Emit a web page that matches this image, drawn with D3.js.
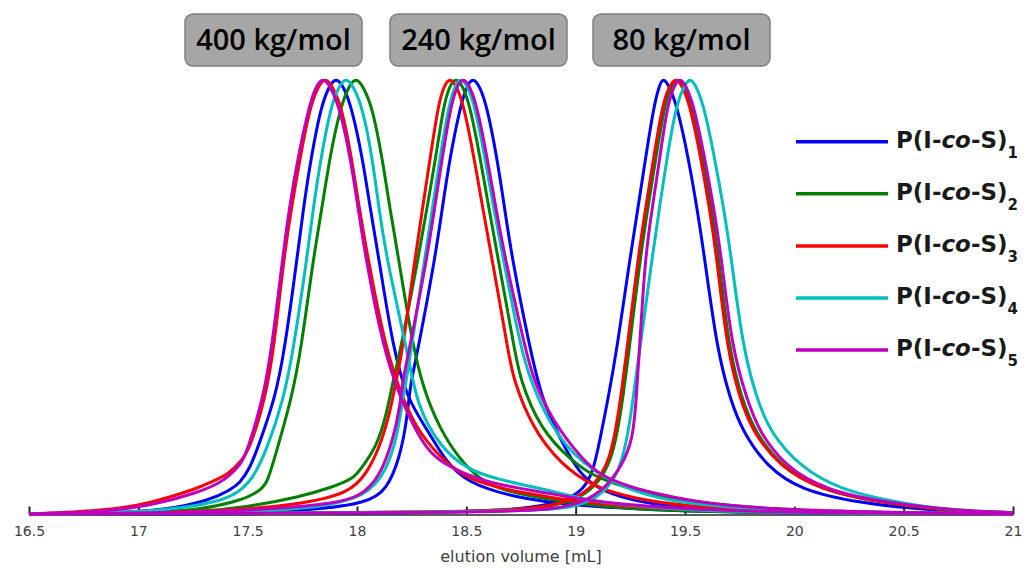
<!DOCTYPE html>
<html>
<head>
<meta charset="utf-8">
<script src="https://cdn.jsdelivr.net/npm/d3@7"></script>
<style>
  body { margin: 0; background: #fff; }
  svg { display: block; }
</style>
</head>
<body>
<svg id="chart"></svg>
<script>
// elution volume [mL] vs normalised signal [%]

// samples P(I-co-S)1..5
let sampleNums = ["1", "2", "3", "4", "5"];
let sampleColors = ["#0000ff", "#008000", "#ff0000", "#00bfbf", "#bf00bf"];
let massLabels = ["400 kg/mol", "240 kg/mol", "80 kg/mol"];
let xTicks = [16.5, 17, 17.5, 18, 18.5, 19, 19.5, 20, 20.5, 21];

// ---- 400 kg/mol ----
let s1_400 = [[16.5,0],[16.9,0.3],[17.13,0.9],[17.33,3.2],[17.42,5.5],[17.465,7.1],[17.51,10.5],[17.543,14.7],[17.625,26.3],[17.67,37.8],[17.726,58.5],[17.755,70],[17.79,81.6],[17.835,93.1],[17.87,97.7],[17.904,100],[17.94,97.7],[17.975,93.1],[18.025,81.6],[18.06,70],[18.10,58.5],[18.165,37.8],[18.23,26.3],[18.32,19.4],[18.40,12.5],[18.50,7.1],[18.73,3.7],[18.96,2.1],[19.4,0.7],[20,0.2],[21,0]];
let s2_400 = [[16.5,0],[17.0,0.2],[17.28,0.9],[17.48,3.2],[17.56,5.5],[17.59,7.1],[17.634,14.7],[17.70,26.3],[17.745,37.8],[17.80,58.5],[17.84,70],[17.875,81.6],[17.925,93.1],[17.96,97.7],[17.995,100],[18.03,97.7],[18.07,93.1],[18.115,81.6],[18.15,70],[18.19,58.5],[18.25,40],[18.3,29],[18.379,19.4],[18.471,12.4],[18.56,8],[18.654,5.5],[18.883,3.2],[19.2,1.2],[19.7,0.3],[21,0]];
let s3_400 = [[16.5,0],[16.83,0.7],[17.05,2.3],[17.28,6.0],[17.33,7.3],[17.41,9.0],[17.47,12],[17.51,15],[17.58,26.3],[17.62,37.8],[17.665,58.5],[17.70,70],[17.74,81.6],[17.785,93.1],[17.82,97.7],[17.855,100],[17.89,97.7],[17.93,93.1],[17.975,81.6],[18.01,70],[18.05,58.5],[18.13,37.8],[18.21,26.3],[18.28,18.7],[18.42,10.8],[18.55,7.1],[18.76,4.8],[19.0,2.8],[19.3,1.4],[19.8,0.4],[21,0]];
let s4_400 = [[16.5,0],[16.8,0.2],[17.05,0.5],[17.36,2.5],[17.46,5],[17.52,7.8],[17.588,14.7],[17.665,26.3],[17.71,37.8],[17.771,58.5],[17.80,70],[17.835,81.6],[17.88,93.1],[17.915,97.7],[17.95,100],[17.985,97.7],[18.025,93.1],[18.07,81.6],[18.10,70],[18.135,58.5],[18.228,37.8],[18.274,24.7],[18.379,15.4],[18.503,10.1],[18.654,7.8],[18.805,6.2],[18.96,4.4],[19.11,2.5],[19.48,0.9],[20,0.2],[21,0]];
let s5_400 = [[16.5,0],[16.83,0.5],[17.05,1.8],[17.28,5.0],[17.37,7.1],[17.41,8.5],[17.47,11.3],[17.50,14.7],[17.57,26.3],[17.61,37.8],[17.66,58.5],[17.69,70],[17.73,81.6],[17.78,93.1],[17.81,97.7],[17.845,100],[17.88,97.7],[17.92,93.1],[17.97,81.6],[18.005,70],[18.04,58.5],[18.12,37.8],[18.20,26.3],[18.27,19],[18.32,15],[18.38,11.8],[18.58,7.1],[18.88,4.8],[19.11,2.5],[19.57,0.9],[20.03,0.3],[21,0]];

// ---- 240 kg/mol ----
let s1_240 = [[16.5,0],[17.5,0.3],[17.8,0.9],[18.046,2.5],[18.137,5.5],[18.197,13.1],[18.229,21.7],[18.242,29.3],[18.28,37.8],[18.357,58.5],[18.39,70],[18.425,81.6],[18.472,93.1],[18.50,97.7],[18.53,100],[18.563,97.7],[18.595,93.1],[18.64,81.6],[18.675,70],[18.709,58.5],[18.791,37.8],[18.846,26.3],[18.915,18.7],[19.0,10.5],[19.08,6.2],[19.25,3.0],[19.5,1.2],[20.0,0.3],[21,0]];
let s2_240 = [[16.5,0],[17.0,0.1],[17.28,0.5],[17.497,1.6],[17.739,3.9],[17.89,6.2],[17.98,8],[18.014,10.1],[18.091,15.4],[18.137,23.3],[18.16,29.3],[18.20,37.8],[18.28,58.5],[18.32,70],[18.36,81.6],[18.395,93.1],[18.42,97.7],[18.453,100],[18.486,97.7],[18.518,93.1],[18.563,81.6],[18.603,70],[18.645,58.5],[18.72,37.8],[18.745,30.9],[18.837,19.4],[18.988,11.8],[19.1,8.2],[19.262,5.5],[19.5,2.8],[19.9,1.0],[20.5,0.2],[21,0]];
let s3_240 = [[16.5,0],[17.3,0.3],[17.739,2.1],[17.968,4.8],[18.046,9.4],[18.105,15.4],[18.151,23.3],[18.174,29.3],[18.21,37.8],[18.265,58.5],[18.30,70],[18.335,81.6],[18.37,93.1],[18.395,97.7],[18.425,100],[18.458,97.7],[18.49,93.1],[18.535,81.6],[18.575,70],[18.617,58.5],[18.69,37.8],[18.713,30.9],[18.805,19.4],[18.93,11.5],[19.079,6.2],[19.26,3.6],[19.5,1.8],[19.9,0.7],[20.5,0.2],[21,0]];
let s4_240 = [[16.5,0],[17.4,0.2],[17.8,1.2],[18.046,3.9],[18.137,10.1],[18.183,17.7],[18.21,26.3],[18.24,35],[18.31,58.5],[18.345,70],[18.38,81.6],[18.418,93.1],[18.445,97.7],[18.475,100],[18.508,97.7],[18.54,93.1],[18.585,81.6],[18.625,70],[18.668,58.5],[18.75,37.8],[18.791,30.9],[18.88,20.5],[19.02,11.5],[19.25,5.0],[19.5,2.3],[19.9,0.8],[20.5,0.2],[21,0]];
let s5_240 = [[16.5,0],[17.3,0.3],[17.739,1.6],[17.9,2.6],[18.014,3.9],[18.105,8.5],[18.165,17.0],[18.197,24.7],[18.21,30.9],[18.24,37.8],[18.32,58.5],[18.355,70],[18.39,81.6],[18.428,93.1],[18.455,97.7],[18.485,100],[18.518,97.7],[18.55,93.1],[18.595,81.6],[18.635,70],[18.677,58.5],[18.77,37.8],[18.805,30.9],[18.896,21.0],[19.033,12.4],[19.111,8.8],[19.262,6.0],[19.34,5.0],[19.57,2.5],[19.9,1.0],[20.5,0.3],[21,0]];

// ---- 80 kg/mol ----
let s1_80 = [[16.5,0],[18.5,0.1],[18.805,1.4],[18.96,3.2],[19.033,5.5],[19.079,9.4],[19.111,17.0],[19.148,26.3],[19.189,37.8],[19.248,58.5],[19.285,70],[19.32,81.6],[19.357,93.1],[19.38,97.7],[19.40,100],[19.43,97.7],[19.465,93.1],[19.515,81.6],[19.555,70],[19.59,58.5],[19.646,37.8],[19.706,26.3],[19.765,18.7],[19.875,10.8],[20.026,5.5],[20.30,2.5],[20.6,0.9],[21,0.2]];
let s2_80 = [[16.5,0],[18.6,0.3],[18.87,1.5],[19.0,3.2],[19.09,6.2],[19.165,11.8],[19.21,24],[19.245,37.8],[19.295,58.5],[19.33,70],[19.367,81.6],[19.405,93.1],[19.433,97.7],[19.467,100],[19.498,97.7],[19.532,93.1],[19.58,81.6],[19.62,70],[19.655,58.5],[19.70,37.8],[19.76,26.3],[19.82,18.7],[19.94,10.8],[20.12,5.5],[20.4,2.5],[20.7,0.8],[21,0.2]];
let s3_80 = [[16.5,0],[18.6,0.3],[18.85,1.5],[18.988,3.2],[19.079,6.2],[19.157,11.8],[19.20,24],[19.235,37.8],[19.285,58.5],[19.32,70],[19.357,81.6],[19.395,93.1],[19.425,97.7],[19.459,100],[19.49,97.7],[19.525,93.1],[19.572,81.6],[19.612,70],[19.646,58.5],[19.692,37.8],[19.751,26.3],[19.811,18.7],[19.934,10.8],[20.117,5.5],[20.405,2.5],[20.7,0.8],[21,0.3]];
let s4_80 = [[16.5,0],[18.8,0.4],[19.0,1.6],[19.111,3.9],[19.203,9.4],[19.245,20],[19.262,26.3],[19.294,37.8],[19.349,58.5],[19.383,70],[19.418,81.6],[19.458,93.1],[19.493,97.7],[19.523,100],[19.553,97.7],[19.588,93.1],[19.635,81.6],[19.677,70],[19.712,58.5],[19.765,37.8],[19.829,26.3],[19.889,18.7],[20.026,10.8],[20.209,5.5],[20.483,2.5],[20.7,0.9],[21,0.3]];
let s5_80 = [[16.5,0],[18.7,0.3],[18.9,1.2],[19.033,2.5],[19.143,6.2],[19.21,11],[19.262,17],[19.277,26.3],[19.292,37.8],[19.317,58.5],[19.35,70],[19.385,81.6],[19.418,93.1],[19.447,97.7],[19.477,100],[19.508,97.7],[19.542,93.1],[19.59,81.6],[19.632,70],[19.667,58.5],[19.715,37.8],[19.783,26.3],[19.84,18.7],[19.96,10.8],[20.14,5.5],[20.43,2.5],[20.75,0.8],[21,0.3]];

// table of traces, drawn in sample order (magenta ends on top)
let traces = [
    {s: 0, pts: s1_400}, {s: 0, pts: s1_240}, {s: 0, pts: s1_80},
    {s: 1, pts: s2_400}, {s: 1, pts: s2_240}, {s: 1, pts: s2_80},
    {s: 2, pts: s3_400}, {s: 2, pts: s3_240}, {s: 2, pts: s3_80},
    {s: 3, pts: s4_400}, {s: 3, pts: s4_240}, {s: 3, pts: s4_80},
    {s: 4, pts: s5_400}, {s: 4, pts: s5_240}, {s: 4, pts: s5_80},
];

// -------------------- LAYOUT -------------------- //
let W = 1027, H = 570;
let plotLeft = 29, plotRight = 1013, plotTop = 77, plotBottom = 514;

let svg = d3.select("#chart").attr("width", W).attr("height", H);
svg.append("rect").attr("width", W).attr("height", H).attr("fill", "#fff");

let x = d3.scaleLinear().domain([16.5, 21]).range([plotLeft, plotRight]);
let y = d3.scaleLinear().domain([0, 100]).range([plotBottom, plotTop]);

// axis first, curves go over it
let xAxis = d3.axisBottom(x)
    .tickValues(xTicks)
    .tickFormat(d3.format("~g"))
    .tickSizeInner(-8)
    .tickSizeOuter(0)
    .tickPadding(12);

let gx = svg.append("g")
    .attr("transform", `translate(0,${plotBottom + 0.5})`)
    .call(xAxis);
gx.select(".domain").attr("stroke", "#262626").attr("stroke-width", 1.5);
gx.selectAll(".tick line").attr("stroke", "#262626").attr("stroke-width", 2);
gx.selectAll(".tick text")
    .attr("fill", "#404040")
    .style("font-family", "'DejaVu Sans', sans-serif")
    .style("font-size", "14px");

svg.append("text")
    .attr("x", 521)
    .attr("y", 562)
    .attr("text-anchor", "middle")
    .attr("fill", "#404040")
    .style("font-family", "'DejaVu Sans', sans-serif")
    .style("font-size", "16px")
    .text("elution volume [mL]");

// -------------------- CURVES -------------------- //
let line = d3.line()
    .x(d => x(d[0]))
    .y(d => y(d[1]))
    .curve(d3.curveBasis);

svg.append("g").selectAll("path")
    .data(traces)
    .enter()
    .append("path")
    .attr("d", d => line(d.pts))
    .attr("fill", "none")
    .attr("stroke", d => sampleColors[d.s])
    .attr("stroke-width", 3)
    .attr("stroke-linejoin", "round");

// -------------------- MOLAR MASS BOXES -------------------- //
let boxLeft = [185, 390, 593];
let boxW = 177, boxTop = 14, boxH = 52;

let boxes = svg.append("g").selectAll("g")
    .data(massLabels)
    .enter()
    .append("g")
    .attr("transform", (d, i) => `translate(${boxLeft[i]},${boxTop})`);

boxes.append("rect")
    .attr("width", boxW)
    .attr("height", boxH)
    .attr("rx", 8)
    .attr("fill", "#a6a6a6")
    .attr("stroke", "#7f7f7f")
    .attr("stroke-width", 1.5);

boxes.append("text")
    .attr("x", boxW / 2)
    .attr("y", boxH / 2 + 10)
    .attr("text-anchor", "middle")
    .attr("fill", "#000")
    .style("font-family", "'Open Sans', sans-serif")
    .style("font-weight", "600")
    .style("font-size", "29px")
    .text(d => d);

// -------------------- LEGEND -------------------- //
let legTop = 141.7, legStep = 52.1;

let leg = svg.append("g").selectAll("g")
    .data(sampleNums)
    .enter()
    .append("g")
    .attr("transform", (d, i) => `translate(0,${legTop + i * legStep})`);

leg.append("line")
    .attr("x1", 796).attr("x2", 888)
    .attr("stroke", (d, i) => sampleColors[i])
    .attr("stroke-width", 3.5);

let lt = leg.append("text")
    .attr("x", 896)
    .attr("y", 6)
    .attr("fill", "#1a1a1a")
    .style("font-family", "'DejaVu Sans', sans-serif")
    .style("font-weight", "bold")
    .style("font-size", "23px");
lt.append("tspan").text("P(I-");
lt.append("tspan").style("font-style", "italic").text("co");
lt.append("tspan").text("-S)");
lt.append("tspan").attr("dy", 10).style("font-size", "15px").text(d => d);
</script>
</body>
</html>
